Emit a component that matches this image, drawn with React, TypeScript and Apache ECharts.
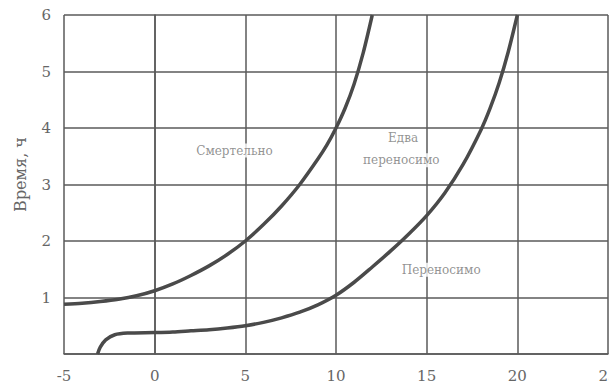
import React, { useEffect, useRef } from "react";
import * as echarts from "echarts";

const lethalX = [-5, -4, -3, -2, -1, 0, 1, 2, 3, 4, 5, 6, 7, 8, 9, 9.5, 10, 10.5, 11, 11.5, 12];
const lethalY = [0.88, 0.9, 0.93, 0.97, 1.03, 1.12, 1.24, 1.39, 1.56, 1.76, 2.0, 2.29, 2.62, 3.0, 3.45, 3.7, 4.0, 4.35, 4.78, 5.33, 6.0];

const tolerableX = [-3.15, -3.0, -2.7, -2.2, -1.5, 0, 1, 2, 3, 4, 5, 6, 7, 8, 9, 10, 11, 12, 13, 14, 15, 16, 17, 18, 18.5, 19, 19.5, 20];
const tolerableY = [0, 0.12, 0.25, 0.34, 0.37, 0.38, 0.39, 0.41, 0.43, 0.46, 0.5, 0.56, 0.64, 0.74, 0.87, 1.04, 1.27, 1.54, 1.82, 2.12, 2.45, 2.85, 3.35, 3.97, 4.35, 4.8, 5.35, 6.0];

const xTicks = { min: -5, max: 25, step: 5 };
const yTicks = { min: 0, max: 6, step: 1 };

const labels = [
  { text: "Смертельно", x: 4.4, y: 3.6 },
  { text: "Едва", x: 13.7, y: 3.82 },
  { text: "переносимо", x: 13.6, y: 3.43 },
  { text: "Переносимо", x: 15.8, y: 1.49 },
];

const yAxisName = "Время, ч";

const GRAY = "#5a5a5a";
const FONT = "DejaVu Serif";

export default function App() {
  const ref = useRef<HTMLDivElement>(null);
  useEffect(() => {
    if (!ref.current) return;
    const chart = echarts.init(ref.current, undefined, { renderer: "svg" });
    const pair = (xs: number[], ys: number[]) => xs.map((x, i) => [x, ys[i]]);
    chart.setOption({
      animation: false,
      backgroundColor: "#fff",
      grid: { left: 64, right: 1, top: 15, bottom: 37, containLabel: false, outerBoundsMode: "none" },
      xAxis: {
        type: "value",
        min: xTicks.min,
        max: xTicks.max,
        interval: xTicks.step,
        axisLine: { show: true, lineStyle: { color: GRAY, width: 1.5 } },
        axisTick: { show: false },
        splitLine: { show: true, lineStyle: { color: GRAY, width: 1.5 } },
        axisLabel: { color: "#666", fontFamily: FONT, fontSize: 15, margin: 14 },
      },
      yAxis: {
        type: "value",
        min: yTicks.min,
        max: yTicks.max,
        interval: yTicks.step,
        name: yAxisName,
        nameLocation: "middle",
        nameGap: 36,
        nameTextStyle: { color: "#666", fontFamily: FONT, fontSize: 16, padding: [0, 0, 0, 20] },
        axisLine: { show: true, lineStyle: { color: GRAY, width: 1.5 } },
        axisTick: { show: false },
        splitLine: { show: true, lineStyle: { color: GRAY, width: 1.5 } },
        axisLabel: {
          color: "#666",
          fontFamily: FONT,
          fontSize: 15,
          margin: 13,
          formatter: (v: number) => (v === 0 ? "" : String(v)),
        },
      },
      series: [
        {
          type: "line",
          data: pair(lethalX, lethalY),
          smooth: 0.3,
          showSymbol: false,
          lineStyle: { color: "#4a4a4a", width: 3.5 },
          z: 3,
        },
        {
          type: "line",
          data: pair(tolerableX, tolerableY),
          smooth: 0.3,
          showSymbol: false,
          lineStyle: { color: "#4a4a4a", width: 3.5 },
          z: 3,
        },
        {
          type: "scatter",
          data: labels.map((l) => ({ value: [l.x, l.y], name: l.text })),
          symbolSize: 0,
          label: {
            show: true,
            position: "inside",
            formatter: (p: any) => p.name,
            color: "#777",
            fontFamily: FONT,
            fontSize: 12,
            backgroundColor: "#fff",
            padding: [1, 1],
          },
          z: 4,
        },
      ],
    });
    return () => chart.dispose();
  }, []);
  return (
    <div
      ref={ref}
      style={{ position: "fixed", left: 0, top: 0, width: 609, height: 391, background: "#fff" }}
    />
  );
}
